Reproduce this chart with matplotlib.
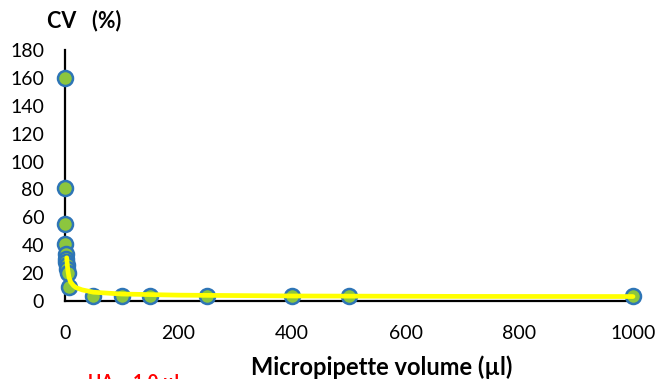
import numpy as np
import matplotlib.pyplot as plt

plt.rcParams['font.family'] = ['Lato', 'DejaVu Sans']

# measured points: volume (ul) vs CV (%)
volume = [0.1, 0.2, 0.3, 0.5, 1, 1.5, 2, 3, 4, 5, 7, 50, 100, 150, 250, 400, 500, 1000]
cv = [160, 81, 55, 41, 34, 30, 28, 26, 23, 20, 10, 3.8, 3.6, 3.6, 3.6, 3.6, 3.6, 3.6]

# trend line
trend_x = [3, 4, 5, 7, 10, 15, 20, 30, 50, 100, 200, 400, 700, 1000]
trend_y = [31, 26, 22, 17, 13.5, 11, 9.5, 8, 6.3, 5, 4.2, 3.6, 3.3, 3.2]

xticks = [0, 200, 400, 600, 800, 1000]
yticks = [0, 20, 40, 60, 80, 100, 120, 140, 160, 180]

fig = plt.figure(figsize=(6.61, 3.79), dpi=100)
ax = fig.add_axes([65 / 661, (379 - 301) / 379, (633 - 65) / 661, 251 / 379])

ax.plot(volume, cv, 'o', ms=10.8, mfc='#8cc63e', mec='#2e75b6', mew=1.8,
        clip_on=False, zorder=3)
ax.plot(trend_x, trend_y, '-', color='#ffff00', lw=3.4, solid_capstyle='round',
        clip_on=False, zorder=4)

ax.set_xlim(0, 1000)
ax.set_ylim(0, 180)
ax.set_xticks(xticks)
ax.set_yticks(yticks)
ax.tick_params(length=0, labelsize=14)
ax.tick_params(axis='x', pad=17)
ax.tick_params(axis='y', pad=15)
for s in ['top', 'right']:
    ax.spines[s].set_visible(False)
for s in ['left', 'bottom']:
    ax.spines[s].set_linewidth(1.6)
    ax.spines[s].set_zorder(2)

fig.text(47 / 661, 1 - 21 / 379, 'CV   (%)', fontsize=15.5, fontweight='bold',
         va='center', ha='left')
fig.text(382 / 661, 1 - 367 / 379, 'Micropipette volume (\u00b5l)', fontsize=17,
         fontweight='bold', va='center', ha='center')
# red note, cut off by the bottom edge as in the original
fig.text(88 / 661, 1 - 374 / 379, 'UA = 1.0 \u00b5l', fontsize=13,
         fontweight='bold', color='red', va='top', ha='left')

fig.savefig('out.png', dpi=100)
